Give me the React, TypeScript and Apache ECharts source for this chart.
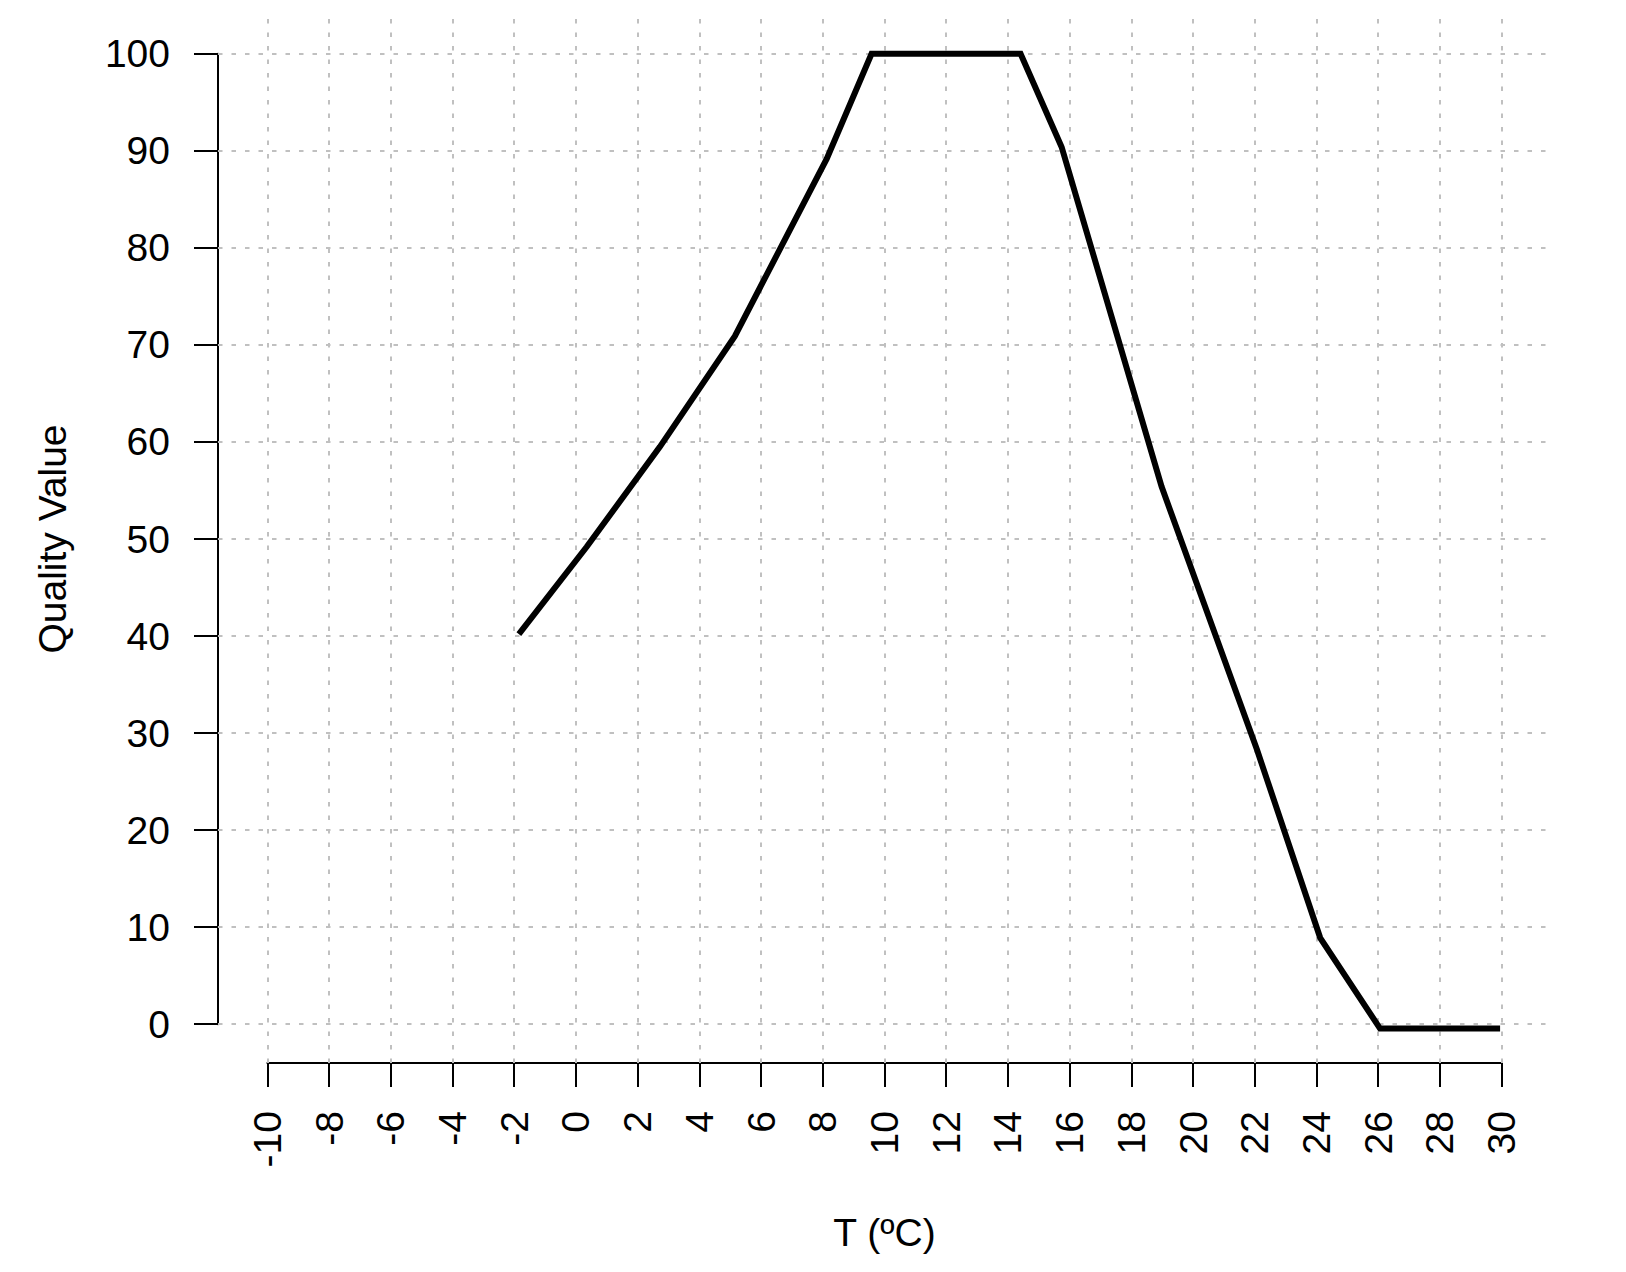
import React, { useEffect, useRef } from "react";
import * as echarts from "echarts";

// ---- data ----
const temperatureC = [-1.85, 0.35, 2.72, 5.15, 8.13, 9.58, 14.41, 15.74, 18.98, 22.07, 24.12, 26.06, 29.95];
const qualityValue = [40.2, 49.2, 59.5, 70.9, 89.2, 100, 100, 90.4, 55.4, 28.3, 8.9, -0.45, -0.45];
const xTicks = [-10, -8, -6, -4, -2, 0, 2, 4, 6, 8, 10, 12, 14, 16, 18, 20, 22, 24, 26, 28, 30];
const yTicks = [0, 10, 20, 30, 40, 50, 60, 70, 80, 90, 100];
const xTitle = "T (ºC)";
const yTitle = "Quality Value";

// ---- layout ----
const W = 1626;
const H = 1272;
const PL = 218, PR = 1551, PT = 15, PB = 1063; // plot region (pixels)
const XMIN = -11.6, XMAX = 31.6, YMIN = -4, YMAX = 104; // plot region (data units)
const FONT = "'Liberation Sans', Arial, Helvetica, sans-serif";

export default function App() {
  const ref = useRef<HTMLDivElement>(null);

  useEffect(() => {
    if (!ref.current) return;
    const chart = echarts.init(ref.current, undefined, { renderer: "svg" });

    const ux = (PR - PL) / (XMAX - XMIN);
    const uy = (PB - PT) / (YMAX - YMIN);
    const x0 = xTicks[0], x1 = xTicks[xTicks.length - 1];
    const y0 = yTicks[0], y1 = yTicks[yTicks.length - 1];
    const axLeft = PL + (x0 - XMIN) * ux;
    const axRight = PR - (XMAX - x1) * ux;
    const axTop = PT + (YMAX - y1) * uy;
    const axBottom = PB - (y0 - YMIN) * uy;
    const yOffset = axLeft - PL;
    const xOffset = PB - axBottom;

    const data = temperatureC.map((t, i) => [t, qualityValue[i]]);

    chart.setOption({
      animation: false,
      backgroundColor: "#ffffff",
      grid: [
        { left: PL, right: W - PR, top: PT, bottom: H - PB, containLabel: false },
        { left: axLeft, right: W - axRight, top: axTop, bottom: H - axBottom, containLabel: false },
      ],
      xAxis: [
        { gridIndex: 0, type: "value", min: XMIN, max: XMAX, show: false },
        {
          gridIndex: 1,
          type: "value",
          min: x0,
          max: x1,
          interval: 2,
          offset: xOffset,
          name: xTitle,
          nameLocation: "middle",
          nameGap: 150,
          nameTextStyle: { fontSize: 39, color: "#000", fontFamily: FONT },
          axisLine: { show: true, onZero: false, lineStyle: { color: "#000", width: 2 } },
          axisTick: { show: true, length: 24, lineStyle: { color: "#000", width: 2 } },
          axisLabel: { show: true, rotate: 90, margin: 48, fontSize: 39, color: "#000", fontFamily: FONT },
          splitLine: { show: false },
        },
      ],
      yAxis: [
        { gridIndex: 0, type: "value", min: YMIN, max: YMAX, show: false },
        {
          gridIndex: 1,
          type: "value",
          min: y0,
          max: y1,
          interval: 10,
          offset: yOffset,
          name: yTitle,
          nameLocation: "middle",
          nameRotate: 90,
          nameGap: 146,
          nameTextStyle: { fontSize: 39, color: "#000", fontFamily: FONT },
          axisLine: { show: true, onZero: false, lineStyle: { color: "#000", width: 2 } },
          axisTick: { show: true, length: 24, lineStyle: { color: "#000", width: 2 } },
          axisLabel: { show: true, margin: 48, fontSize: 39, color: "#000", fontFamily: FONT },
          splitLine: { show: false },
        },
      ],
      series: [
        {
          type: "line",
          xAxisIndex: 0,
          yAxisIndex: 0,
          z: 1,
          silent: true,
          data: [[x0, y0]],
          symbol: "none",
          lineStyle: { opacity: 0 },
          markLine: {
            z: 1,
            silent: true,
            animation: false,
            symbol: ["none", "none"],
            label: { show: false },
            lineStyle: { color: "#c0c0c0", width: 2, type: [4.5, 9] },
            emphasis: { disabled: true },
            data: [
              ...xTicks.map((v) => ({ xAxis: v })),
              ...yTicks.map((v) => ({ yAxis: v })),
            ],
          },
        },
        {
          type: "line",
          xAxisIndex: 0,
          yAxisIndex: 0,
          z: 10,
          silent: true,
          data,
          symbol: "none",
          clip: false,
          lineStyle: { color: "#000", width: 6, cap: "butt", join: "miter" },
        },
      ],
    });

    return () => chart.dispose();
  }, []);

  return (
    <div
      ref={ref}
      style={{ position: "absolute", left: 0, top: 0, width: W, height: H, background: "#fff" }}
    />
  );
}
